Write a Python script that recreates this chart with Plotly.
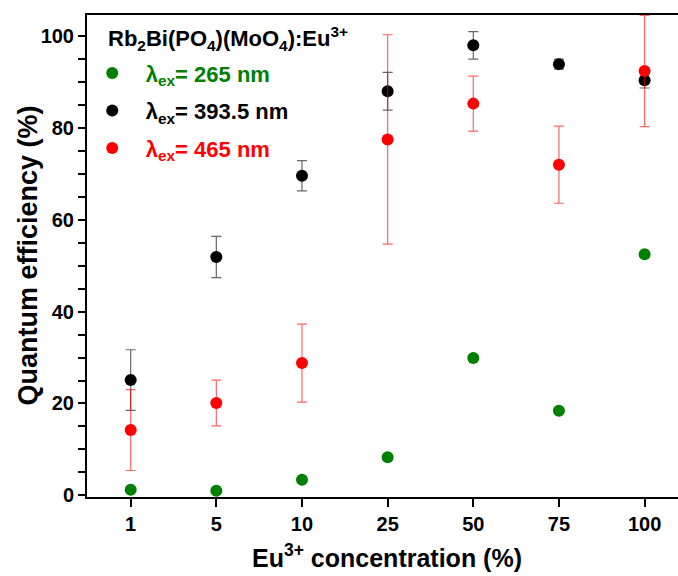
import plotly.graph_objects as go

categories = ["1", "5", "10", "25", "50", "75", "100"]
qe_265 = [1.2, 1.0, 3.4, 8.3, 29.9, 18.4, 52.5]
qe_393 = [25.1, 51.9, 69.6, 88.0, 98.0, 93.9, 90.4]
err_393 = [6.6, 4.5, 3.3, 4.1, 3.0, 1.1, 1.7]
qe_465 = [14.2, 20.1, 28.8, 77.5, 85.3, 72.0, 92.4]
err_465 = [8.8, 5.0, 8.5, 22.8, 6.0, 8.4, 12.1]

FONT = "Liberation Sans, Arial, sans-serif"
GREEN = "#008000"
RED = "#ff0000"

fig = go.Figure()
fig.add_trace(go.Scatter(
    x=categories, y=qe_265, mode="markers", legendgroup="a",
    name=f"<span style='color:{GREEN}'>λ<sub>ex</sub>= 265 nm</span>",
    marker=dict(color=GREEN, size=12)))
fig.add_trace(go.Scatter(
    x=categories, y=qe_393, mode="markers", legendgroup="b",
    name="<span style='color:#000000'>λ<sub>ex</sub>= 393.5 nm</span>",
    marker=dict(color="#000000", size=12),
    error_y=dict(type="data", array=err_393, color="rgba(0,0,0,0.6)",
                 thickness=1.2, width=5)))
fig.add_trace(go.Scatter(
    x=categories, y=qe_465, mode="markers", legendgroup="c",
    name=f"<span style='color:{RED}'>λ<sub>ex</sub>= 465 nm</span>",
    marker=dict(color=RED, size=12),
    error_y=dict(type="data", array=err_465, color="rgba(255,0,0,0.6)",
                 thickness=1.2, width=5)))

fig.update_layout(
    width=678, height=576,
    margin=dict(l=87, r=0, t=15, b=79),
    paper_bgcolor="white", plot_bgcolor="white",
    font=dict(family=FONT, size=20, color="black", weight="bold"),
    showlegend=True,
    legend=dict(
        x=-0.014, y=0.923, xanchor="left", yanchor="top",
        bgcolor="rgba(0,0,0,0)",
        font=dict(family=FONT, size=22, weight="bold"),
        itemsizing="constant", tracegroupgap=6, itemwidth=57,
    ),
    xaxis=dict(
        type="category", categoryorder="array", categoryarray=categories,
        range=[-0.51, 6.39],
        showline=True, linecolor="black", linewidth=2, mirror=True,
        ticks="outside", ticklen=8, tickwidth=1.5, tickcolor="black",
        tickfont=dict(family=FONT, size=20, weight="bold"),
        showgrid=False, zeroline=False,
    ),
    yaxis=dict(
        range=[-0.37, 104.6], dtick=20, tick0=0,
        showline=True, linecolor="black", linewidth=2,
        ticks="outside", ticklen=7, tickwidth=1.5, tickcolor="black",
        tickfont=dict(family=FONT, size=20, weight="bold"),
        minor=dict(dtick=5, ticks="outside", ticklen=7, tickwidth=1.5, tickcolor="black", showgrid=False),
        showgrid=False, zeroline=False,
    ),
    annotations=[
        dict(text="Rb<sub>2</sub>Bi(PO<sub>4</sub>)(MoO<sub>4</sub>):Eu<sup>3+</sup>",
             xref="paper", yref="paper", x=0.0321, y=0.952, xanchor="left", yanchor="middle",
             showarrow=False, font=dict(family=FONT, size=22, weight="bold")),
        dict(text="Eu<sup>3+</sup> concentration (%)", xref="paper", yref="paper",
             x=0.5076, y=-0.1224, xanchor="center", yanchor="middle", showarrow=False,
             font=dict(family=FONT, size=25, weight="bold")),
        dict(text="Quantum efficiency (%)", xref="paper", yref="paper", textangle=-90,
             x=-0.099, y=0.502, xanchor="center", yanchor="middle", showarrow=False,
             font=dict(family=FONT, size=27, weight="bold")),
    ],
)

fig.write_html("out.html")
